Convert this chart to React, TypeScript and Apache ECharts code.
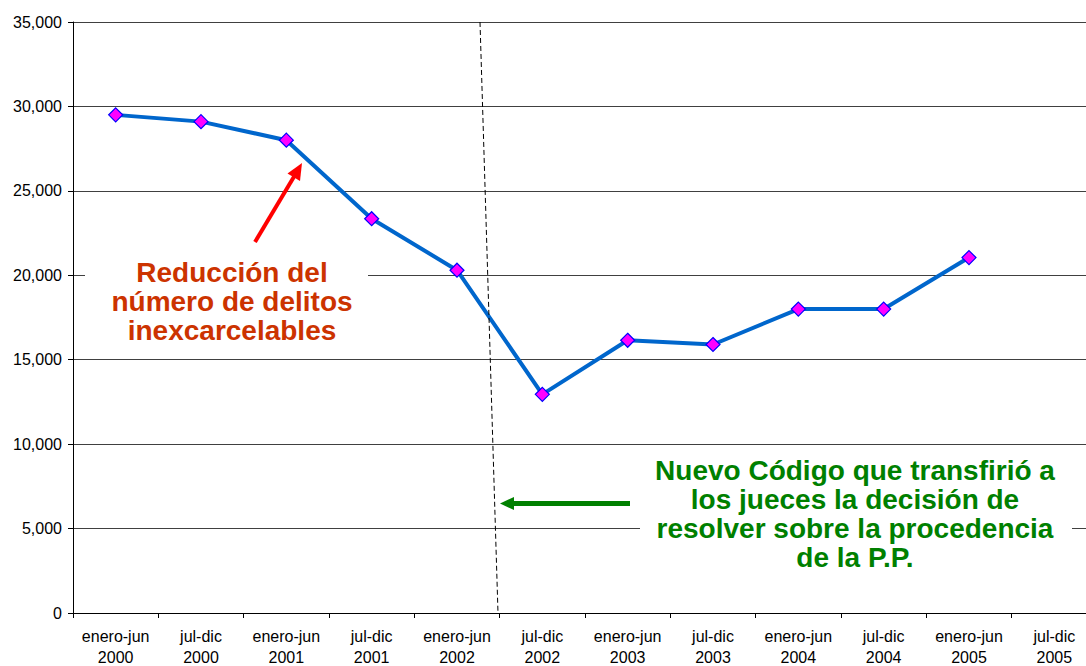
import React, { useEffect, useRef } from "react";
import * as echarts from "echarts";

const categories = [
  "enero-jun\n2000", "jul-dic\n2000", "enero-jun\n2001", "jul-dic\n2001",
  "enero-jun\n2002", "jul-dic\n2002", "enero-jun\n2003", "jul-dic\n2003",
  "enero-jun\n2004", "jul-dic\n2004", "enero-jun\n2005", "jul-dic\n2005",
];
const values: (number | null)[] = [
  29500, 29100, 28000, 23350, 20300, 12950, 16150, 15900, 18000, 18000, 21050, null,
];
const redNote = "Reducción del\nnúmero de delitos\ninexcarcelables";
const greenNote = "Nuevo Código que transfirió a\nlos jueces la decisión de\nresolver sobre la procedencia\nde la P.P.";

export default function App() {
  const ref = useRef<HTMLDivElement>(null);
  useEffect(() => {
    if (!ref.current) return;
    const chart = echarts.init(ref.current, null, { renderer: "svg" });
    const font = "Arial, 'Liberation Sans', sans-serif";
    chart.setOption({
      animation: false,
      backgroundColor: "#ffffff",
      grid: { left: 73, right: 13, top: 22, bottom: 53, containLabel: false, outerBoundsMode: "none" },
      xAxis: {
        type: "category",
        data: categories,
        boundaryGap: true,
        axisLine: { lineStyle: { color: "#000", width: 1 } },
        axisTick: { show: true, length: 5, alignWithLabel: false, lineStyle: { color: "#000" } },
        axisLabel: { color: "#000", fontSize: 16, fontFamily: font, lineHeight: 21, margin: 13, interval: 0 },
        splitLine: { show: false },
      },
      yAxis: {
        type: "value",
        min: 0,
        max: 35000,
        interval: 5000,
        axisLine: { show: true, lineStyle: { color: "#000", width: 1 } },
        axisTick: { show: true, length: 5, lineStyle: { color: "#000" } },
        axisLabel: {
          color: "#000", fontSize: 16, fontFamily: font, margin: 11,
          formatter: (v: number) => v.toLocaleString("en-US"),
        },
        splitLine: { show: true, lineStyle: { color: "#404040", width: 1 } },
      },
      series: [
        {
          type: "line",
          data: values,
          z: 3,
          lineStyle: { color: "#0066CC", width: 4 },
          symbol: "diamond",
          symbolSize: 14,
          itemStyle: { color: "#FF00FF", borderColor: "#0000FF", borderWidth: 1.2 },
        },
      ],
      graphic: [
        { type: "rect", z: 5, shape: { x: 85, y: 258, width: 283, height: 90 }, style: { fill: "#ffffff" } },
        {
          type: "text", z: 6, x: 232, y: 301,
          style: {
            text: redNote, fill: "#CC3300", font: `bold 28px ${font}`,
            align: "center", verticalAlign: "middle", lineHeight: 29,
          },
        },
        { type: "rect", z: 5, shape: { x: 640, y: 450, width: 432, height: 122 }, style: { fill: "#ffffff" } },
        {
          type: "text", z: 6, x: 855, y: 514,
          style: {
            text: greenNote, fill: "#008000", font: `bold 28px ${font}`,
            align: "center", verticalAlign: "middle", lineHeight: 29,
          },
        },
        {
          type: "line", z: 7,
          shape: { x1: 480, y1: 22, x2: 498, y2: 613 },
          style: { stroke: "#000", lineWidth: 1, lineDash: [5, 3] },
        },
        {
          type: "line", z: 7,
          shape: { x1: 255, y1: 242, x2: 295, y2: 175 },
          style: { stroke: "#FF0000", lineWidth: 4 },
        },
        {
          type: "polygon", z: 7,
          shape: { points: [[302, 163], [300, 181], [287.5, 173.5]] },
          style: { fill: "#FF0000" },
        },
        {
          type: "line", z: 7,
          shape: { x1: 630, y1: 503.5, x2: 510, y2: 503.5 },
          style: { stroke: "#008000", lineWidth: 5 },
        },
        {
          type: "polygon", z: 7,
          shape: { points: [[500, 503.5], [514, 497], [514, 510]] },
          style: { fill: "#008000" },
        },
      ],
    });
    return () => chart.dispose();
  }, []);
  return (
    <div style={{ position: "fixed", left: 0, top: 0, width: 1086, height: 666, overflow: "hidden", background: "#fff" }}>
      <div ref={ref} style={{ width: 1110, height: 666 }} />
    </div>
  );
}
